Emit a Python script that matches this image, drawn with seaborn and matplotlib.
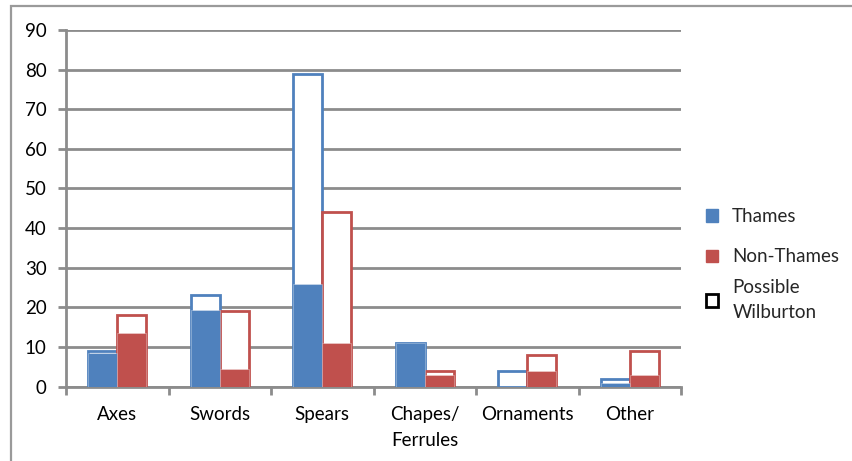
import numpy as np
import pandas as pd
import seaborn as sns
import matplotlib
matplotlib.use("Agg")
import matplotlib.pyplot as plt
from matplotlib.patches import Patch, Rectangle
from matplotlib.ticker import FixedLocator

# Bronze-age find counts by object type
categories = ["Axes", "Swords", "Spears", "Chapes/\nFerrules", "Ornaments", "Other"]
thames_solid = [8.5, 19.3, 26, 11, 0, 1]
thames_total = [9, 23, 79, 11, 4, 2]
nonthames_solid = [13.5, 4.3, 11, 3, 4, 3]
nonthames_total = [18, 19, 44, 4, 8, 9]
series_names = ["Thames", "Non-Thames"]
wilburton_label = "Possible\nWilburton"
y_ticks = [0, 10, 20, 30, 40, 50, 60, 70, 80, 90]

BLUE = "#4F81BD"
RED = "#C0504D"
GRID = "#8C8C8C"
FS = 13.5

sns.set_theme(style="white")
plt.rcParams["font.family"] = ["Lato", "DejaVu Sans"]

n = len(categories)
solid_df = pd.DataFrame({
    "category": categories * 2,
    "series": [series_names[0]] * n + [series_names[1]] * n,
    "value": thames_solid + nonthames_solid,
})
total_df = pd.DataFrame({
    "category": categories * 2,
    "series": [series_names[0]] * n + [series_names[1]] * n,
    "value": thames_total + nonthames_total,
})

fig = plt.figure(figsize=(8.53, 4.61), dpi=100)
ax = fig.add_axes([66 / 853, 1 - 386.5 / 461, (681 - 66) / 853, (386.5 - 30) / 461])

palette = {series_names[0]: BLUE, series_names[1]: RED}

# Full-height outlined bars (possible Wilburton portion shows as the hollow top)
sns.barplot(data=total_df, x="category", y="value", hue="series",
            palette=palette, saturation=1, width=0.57, gap=0, ax=ax,
            legend=False, errorbar=None, zorder=3)
n_total = len(ax.patches)
for p in ax.patches:
    c = p.get_facecolor()
    p.set_edgecolor(c)
    p.set_facecolor("white")
    p.set_linewidth(2.0)

# Solid bars for the confirmed counts
sns.barplot(data=solid_df, x="category", y="value", hue="series",
            palette=palette, saturation=1, width=0.57, gap=0, ax=ax,
            legend=False, errorbar=None, zorder=4)
for p in ax.patches[n_total:]:
    p.set_edgecolor((1, 1, 1, 0.35))
    p.set_linewidth(0.6)

ax.set_ylim(0, 90)
ax.set_xlim(-0.5, n - 0.5)
ax.set_yticks(y_ticks)
ax.set_xlabel("")
ax.set_ylabel("")

ax.yaxis.grid(True, color=GRID, linewidth=2.0, zorder=0)
ax.set_axisbelow(True)
for side in ["top", "right"]:
    ax.spines[side].set_visible(False)
for side in ["left", "bottom"]:
    ax.spines[side].set_color(GRID)
    ax.spines[side].set_linewidth(2.0)

ax.tick_params(axis="y", which="major", length=6, width=2, color=GRID,
               direction="out", left=True, labelsize=FS, pad=8, labelcolor="black")
ax.tick_params(axis="x", which="major", length=0, labelsize=FS, pad=14, labelcolor="black")
ax.xaxis.set_minor_locator(FixedLocator(np.arange(-0.5, n, 1.0)))
ax.tick_params(axis="x", which="minor", length=6, width=2, color=GRID,
               direction="out", bottom=True)
for lbl in ax.get_xticklabels():
    lbl.set_linespacing(1.65)

legend_kw = dict(loc="upper left", frameon=False, fontsize=FS, handlelength=0.65,
                 handleheight=0.65, handletextpad=0.75, borderaxespad=0, borderpad=0)

series_handles = [
    Patch(facecolor=BLUE, edgecolor=BLUE, label=series_names[0]),
    Patch(facecolor=RED, edgecolor=RED, label=series_names[1]),
]
leg1 = fig.legend(handles=series_handles, bbox_to_anchor=(706 / 853, 1 - 208 / 461),
                  labelspacing=1.25, **legend_kw)

wilburton_handle = [Patch(facecolor="white", edgecolor="black", linewidth=2,
                          label=wilburton_label)]
leg2 = fig.legend(handles=wilburton_handle, bbox_to_anchor=(706 / 853, 1 - 279 / 461),
                  **legend_kw)
for t in leg2.get_texts():
    t.set_linespacing(1.6)

# Chart-area border
fig.patches.append(Rectangle((11 / 853, -0.1), 1.2, 1 - 6 / 461 + 0.1,
                             transform=fig.transFigure, fill=False,
                             edgecolor="#9A9A9A", linewidth=1.6, zorder=0))

fig.savefig("out.png", dpi=100)
